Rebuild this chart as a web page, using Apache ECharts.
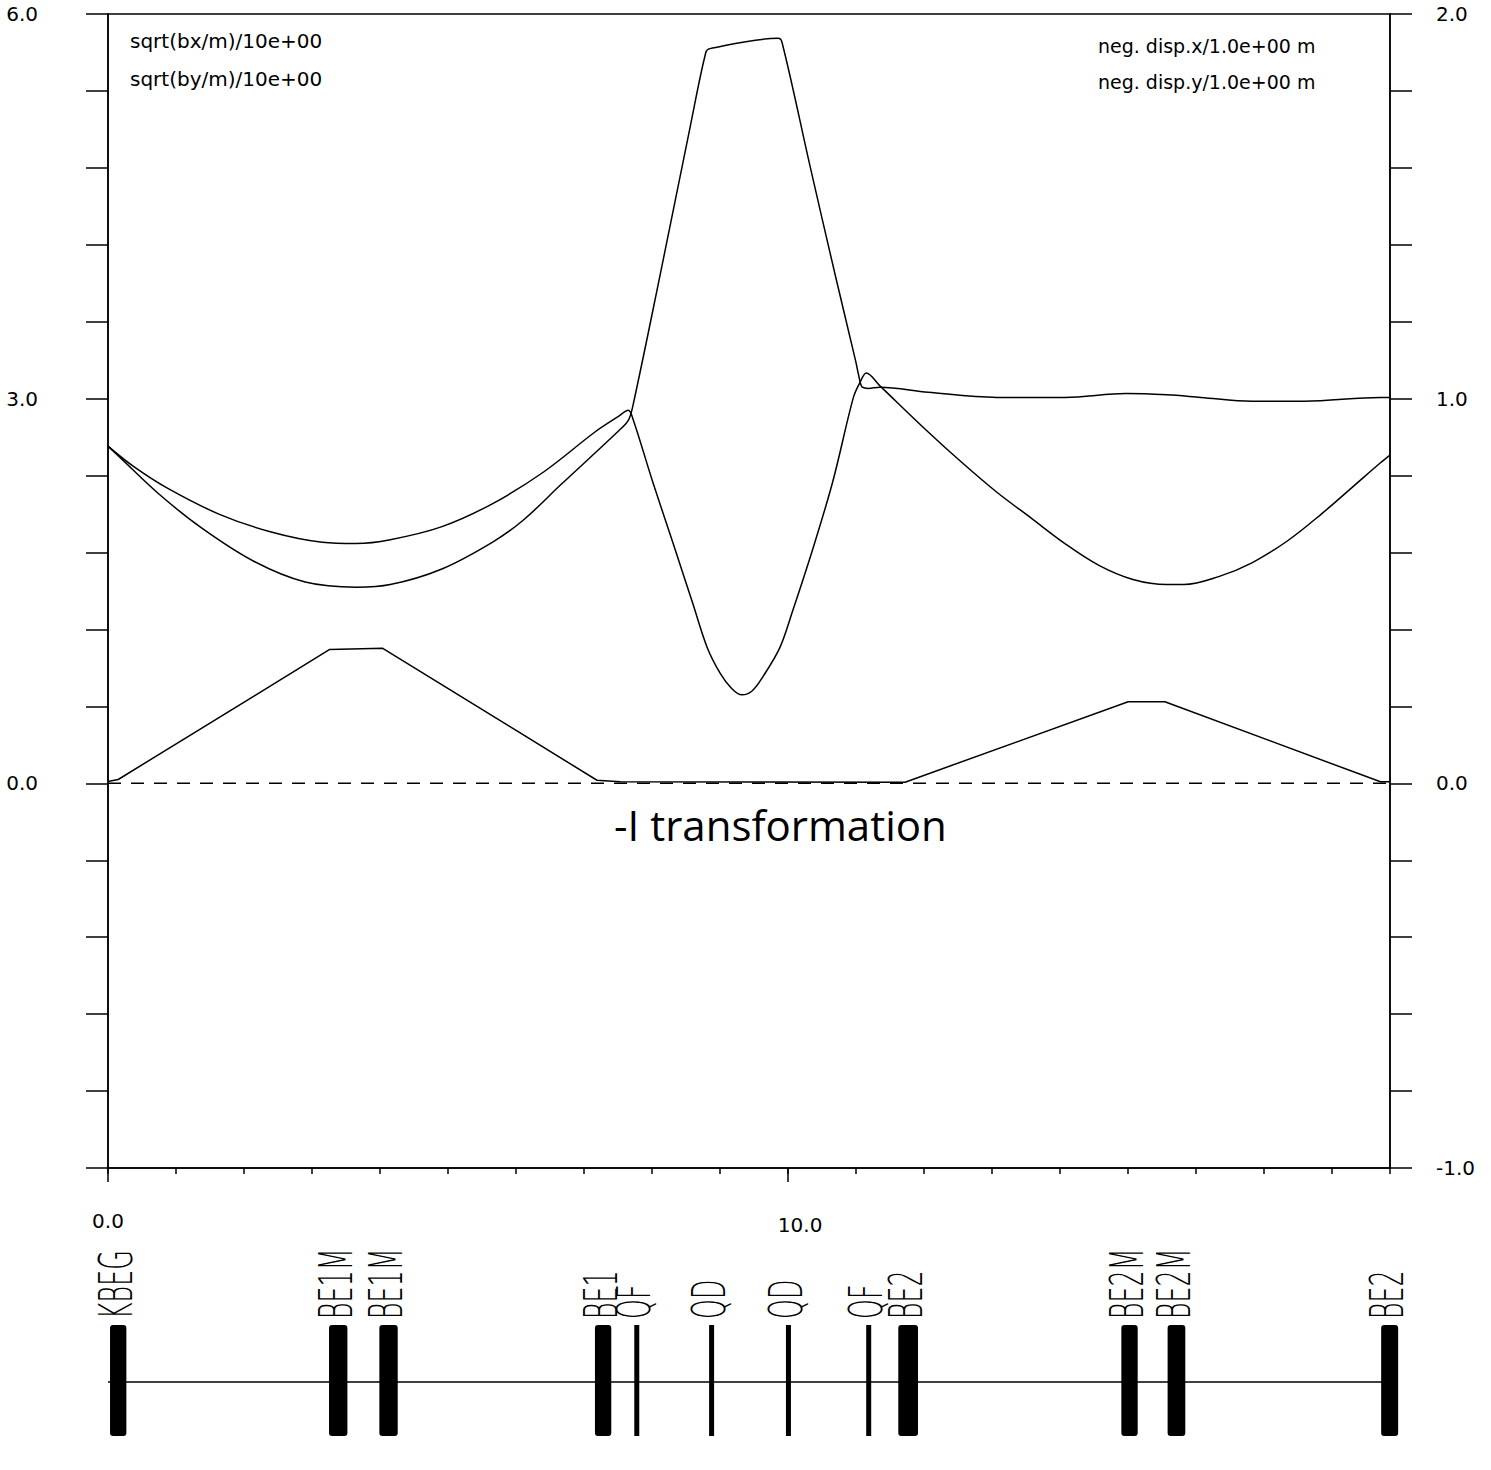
<!DOCTYPE html>
<html>
<head>
<meta charset="utf-8">
<title>-I transformation optics</title>
<script src="https://cdn.jsdelivr.net/npm/echarts@6/dist/echarts.min.js"></script>
<style>
  html, body { margin: 0; padding: 0; background: #fff; }
  #chart { width: 1491px; height: 1470px; }
</style>
</head>
<body>
<div id="chart"></div>
<script>
// longitudinal position s (m) and values
var sBx = [0, 0.38, 0.88, 1.63, 2.40, 3.15, 3.65, 4.15, 4.90, 5.65, 6.41, 7.16, 7.50, 7.65, 7.72, 8.01, 8.31, 8.60, 8.81, 9.00, 9.17, 9.32, 9.47, 9.64, 9.88, 10.07, 10.37, 10.66, 10.96, 11.06, 11.15, 11.35, 12.06, 12.56, 13.07, 13.57, 14.07, 14.57, 15.07, 15.57, 15.82, 16.32, 16.82, 17.34, 17.84, 18.34, 18.71, 18.85];
var bx  = [2.63, 2.47, 2.30, 2.10, 1.96, 1.88, 1.87, 1.90, 2.00, 2.18, 2.43, 2.74, 2.86, 2.91, 2.84, 2.35, 1.87, 1.40, 1.06, 0.86, 0.74, 0.69, 0.72, 0.84, 1.06, 1.35, 1.84, 2.36, 3.01, 3.13, 3.20, 3.10, 2.74, 2.50, 2.27, 2.07, 1.87, 1.70, 1.59, 1.55, 1.55, 1.61, 1.72, 1.89, 2.10, 2.33, 2.50, 2.56];

var sBy = [0, 0.18, 0.74, 1.38, 2.15, 2.90, 3.65, 4.15, 4.90, 5.65, 6.10, 6.66, 7.51, 7.65, 7.72, 8.12, 8.56, 8.79, 8.85, 9.85, 9.91, 10.32, 10.69, 10.99, 11.06, 11.09, 11.18, 11.35, 12.06, 13.07, 14.07, 14.97, 15.57, 16.07, 16.82, 17.59, 18.71, 18.85];
var by  = [2.63, 2.54, 2.26, 1.99, 1.73, 1.57, 1.53, 1.55, 1.67, 1.88, 2.05, 2.33, 2.75, 2.83, 2.95, 3.97, 5.12, 5.70, 5.73, 5.81, 5.78, 4.82, 3.97, 3.30, 3.13, 3.09, 3.08, 3.09, 3.05, 3.01, 3.01, 3.04, 3.03, 3.01, 2.98, 2.98, 3.01, 3.01];

var sDx = [0, 0.15, 3.26, 4.04, 7.19, 7.53, 11.72, 15.00, 15.54, 18.71, 18.85];
var dx  = [0.005, 0.01, 0.348, 0.351, 0.008, 0.004, 0.003, 0.212, 0.212, 0.004, 0.004];

var sDy = [0, 18.85];
var dy  = [0, 0];

// lattice elements: name, start, end, kind (B = bend, Q = quad)
var elemNames = ['KBEG', 'BE1M', 'BE1M', 'BE1', 'QF', 'QD', 'QD', 'QF', 'BE2', 'BE2M', 'BE2M', 'BE2'];
var elemStart = [0.03, 3.25, 3.99, 7.16, 7.74, 8.84, 9.97, 11.15, 11.62, 14.90, 15.58, 18.72];
var elemEnd   = [0.27, 3.52, 4.26, 7.40, 7.81, 8.91, 10.04, 11.22, 11.91, 15.14, 15.84, 18.97];
var elemKind  = ['B', 'B', 'B', 'B', 'Q', 'Q', 'Q', 'Q', 'B', 'B', 'B', 'B'];

// which ticks carry a label
var xLabelAt = [0, 10];
var leftLabelAt = [0, 3, 6];
var rightLabelAt = [-1, 0, 1, 2];

var sMax = 18.85;

function pairs(s, v) {
  return s.map(function (x, i) { return [x, v[i]]; });
}
function labelIf(list) {
  return function (v) {
    for (var i = 0; i < list.length; i++) {
      if (Math.abs(v - list[i]) < 1e-6) return list[i].toFixed(1);
    }
    return '';
  };
}

var black = { color: '#000', width: 1.5 };
var tickFont = '"DejaVu Sans", sans-serif';

var chart = echarts.init(document.getElementById('chart'), null, { renderer: 'svg' });

var option = {
  animation: false,
  backgroundColor: '#fff',
  textStyle: { fontFamily: tickFont, color: '#000' },
  grid: [
    { left: 108, right: 101, top: 14, height: 1154, show: true, borderColor: '#000', borderWidth: 1.5, backgroundColor: 'transparent' },
    { left: 108, right: 101, top: 1322, height: 120 }
  ],
  xAxis: [
    {
      gridIndex: 0, type: 'value', min: 0, max: sMax, interval: 1,
      axisLine: { show: true, onZero: false, lineStyle: black },
      axisTick: { show: true, length: 6, lineStyle: black },
      axisLabel: { show: false },
      splitLine: { show: false }
    },
    {
      gridIndex: 0, type: 'value', min: 0, max: sMax, position: 'bottom',
      axisLine: { show: false, onZero: false },
      axisTick: { show: true, length: 14, lineStyle: black, customValues: xLabelAt },
      axisLabel: {
        show: true, margin: 43, fontSize: 20, color: '#000', customValues: xLabelAt,
        formatter: function (v) {
          var t = labelIf(xLabelAt)(v);
          return v > 5 ? '{r|' + t + '}' : t;
        },
        rich: { r: { fontSize: 20, padding: [4, 0, 0, 24] } }
      },
      splitLine: { show: false }
    },
    { gridIndex: 1, type: 'value', min: 0, max: sMax, show: false }
  ],
  yAxis: [
    {
      gridIndex: 0, type: 'value', min: -3, max: 6, interval: 0.6, position: 'left',
      axisLine: { show: true, onZero: false, lineStyle: black },
      axisTick: { show: true, length: 22, lineStyle: black },
      axisLabel: { margin: 70, fontSize: 20, color: '#000', formatter: labelIf(leftLabelAt) },
      splitLine: { show: false }
    },
    {
      gridIndex: 0, type: 'value', min: -1, max: 2, interval: 0.2, position: 'right',
      axisLine: { show: true, onZero: false, lineStyle: black },
      axisTick: { show: true, length: 22, lineStyle: black },
      axisLabel: { margin: 46, fontSize: 20, color: '#000', formatter: labelIf(rightLabelAt) },
      splitLine: { show: false }
    },
    { gridIndex: 1, type: 'value', min: -1, max: 1, show: false }
  ],
  graphic: [
    { type: 'text', left: 130, top: 31, style: { text: 'sqrt(bx/m)/10e+00', font: '20px "DejaVu Sans", sans-serif', fill: '#000' } },
    { type: 'text', left: 130, top: 69, style: { text: 'sqrt(by/m)/10e+00', font: '20px "DejaVu Sans", sans-serif', fill: '#000' } },
    { type: 'text', left: 1098, top: 36, style: { text: 'neg. disp.x/1.0e+00 m', font: '19px "DejaVu Sans", sans-serif', fill: '#000' } },
    { type: 'text', left: 1098, top: 72, style: { text: 'neg. disp.y/1.0e+00 m', font: '19px "DejaVu Sans", sans-serif', fill: '#000' } },
    { type: 'text', left: 614, top: 803, style: { text: '-I transformation', font: '42px "Open Sans", sans-serif', fill: '#000' } }
  ],
  series: [
    {
      name: 'sqrt(bx/m)', type: 'line', xAxisIndex: 0, yAxisIndex: 0,
      data: pairs(sBx, bx), smooth: 0.35, showSymbol: false, lineStyle: black
    },
    {
      name: 'sqrt(by/m)', type: 'line', xAxisIndex: 0, yAxisIndex: 0,
      data: pairs(sBy, by), smooth: 0.35, showSymbol: false, lineStyle: black
    },
    {
      name: 'neg. disp.x', type: 'line', xAxisIndex: 0, yAxisIndex: 1,
      data: pairs(sDx, dx), showSymbol: false, lineStyle: black
    },
    {
      name: 'neg. disp.y', type: 'line', xAxisIndex: 0, yAxisIndex: 1,
      data: pairs(sDy, dy), showSymbol: false,
      lineStyle: { color: '#000', width: 1.5, type: [13, 10] }
    },
    {
      // beam line through the lattice
      type: 'line', xAxisIndex: 2, yAxisIndex: 2,
      data: [[0, 0], [elemEnd[elemEnd.length - 1] - 0.1, 0]],
      showSymbol: false, lineStyle: black, z: 1
    },
    {
      type: 'custom', xAxisIndex: 2, yAxisIndex: 2, clip: false, z: 3,
      data: elemNames.map(function (n, i) { return [elemStart[i], elemEnd[i], elemKind[i] === 'B' ? 1 : 0, i]; }),
      encode: { x: [0, 1] },
      renderItem: function (params, api) {
        var i = api.value(3);
        var p0 = api.coord([api.value(0), 0.95]);
        var p1 = api.coord([api.value(1), -0.9]);
        var top = api.coord([0, 1])[1];
        var cx = (p0[0] + p1[0]) / 2;
        var bend = api.value(2) === 1;
        var w = bend ? Math.max(p1[0] - p0[0], 14) : 5;
        return {
          type: 'group',
          children: [
            {
              type: 'rect',
              shape: { x: cx - w / 2, y: p0[1], width: w, height: p1[1] - p0[1], r: bend ? 3 : 0 },
              style: { fill: '#000' }
            },
            {
              type: 'text', x: cx - 2, y: top - 3, rotation: Math.PI / 2, scaleX: 0.55,
              style: {
                text: elemNames[i], font: '200 46px "DejaVu Sans", sans-serif',
                fill: '#000', align: 'left', verticalAlign: 'middle'
              }
            }
          ]
        };
      }
    }
  ]
};

chart.setOption(option);
</script>
</body>
</html>
